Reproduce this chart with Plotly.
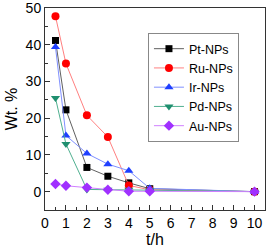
import plotly.graph_objects as go

t = [0.5, 1, 2, 3, 4, 5, 10]
pt = [41.2, 22.3, 6.6, 4.2, 2.4, 0.8, 0.0]
ru = [47.8, 34.9, 20.8, 14.9, 1.7, 0.5, 0.0]
ir = [39.4, 15.3, 10.4, 7.5, 5.7, 0.9, 0.0]
pd_ = [25.5, 13.0, 0.6, 0.5, 0.5, 0.4, 0.0]
au = [2.1, 1.6, 1.1, 0.5, 0.1, 0.1, 0.0]

series = [
    ("Pt-NPs", pt, "#000000", "#606060", "square", 7),
    ("Ru-NPs", ru, "#ff0000", "#ff8080", "circle", 8),
    ("Ir-NPs", ir, "#1f3fff", "#8090ff", "triangle-up", 8),
    ("Pd-NPs", pd_, "#1f8f6f", "#50b090", "triangle-down", 8),
    ("Au-NPs", au, "#a030ff", "#d080ff", "diamond", 8),
]

fig = go.Figure()
for name, y, mc, lc, sym, sz in series:
    fig.add_trace(go.Scatter(
        x=t, y=y, name=name, mode="lines+markers",
        line=dict(color=lc, width=1),
        marker=dict(color=mc, symbol=sym, size=sz, line=dict(width=0)),
        cliponaxis=False,
    ))

axis_common = dict(
    showline=True, linecolor="#333333", linewidth=1, mirror=True,
    ticks="inside", ticklen=5, tickcolor="#333333",
    showgrid=False, zeroline=False, automargin=False,
    tickfont=dict(family="Liberation Sans, Arial", size=14, color="#000"),
)
fig.update_xaxes(range=[0, 10.5], tickmode="linear", tick0=0, dtick=1,
                 minor=dict(dtick=0.5, ticklen=3, ticks="inside", tickcolor="#333333"),
                 title=dict(text="t/h", font=dict(family="Liberation Sans, Arial", size=16, color="#000"), standoff=2),
                 **axis_common)
fig.update_yaxes(range=[-5, 50.05], tickmode="linear", tick0=0, dtick=10,
                 minor=dict(dtick=5, ticklen=3, ticks="inside", tickcolor="#333333"),
                 title=dict(text="Wt. %", font=dict(family="Liberation Sans, Arial", size=16, color="#000"), standoff=4),
                 **axis_common)

fig.update_layout(
    width=267, height=248,
    margin=dict(l=45, r=2, t=8, b=38),
    plot_bgcolor="white", paper_bgcolor="white",
    legend=dict(x=0.468, y=0.876, xanchor="left", yanchor="top",
                bordercolor="#888888", borderwidth=1, bgcolor="white",
                font=dict(family="Liberation Sans, Arial", size=12.5, color="#000"),
                tracegroupgap=0, itemwidth=30),
)

fig.write_html("out.html", config={"displayModeBar": False},
               post_script="document.body.style.margin='0';")
